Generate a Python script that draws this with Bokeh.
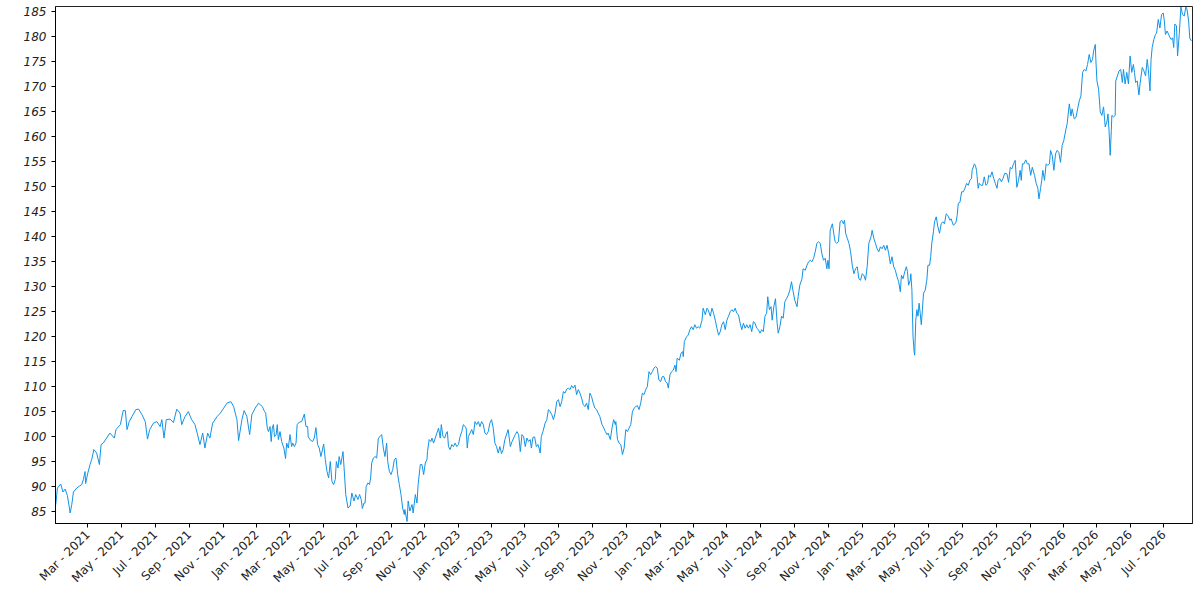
import numpy as np
from math import pi
from bokeh.plotting import figure
from bokeh.models import ColumnDataSource, Range1d, FixedTicker, MonthsTicker, DatetimeTickFormatter
from bokeh.embed import file_html
from bokeh.resources import INLINE

start_date = "2021-01-01"

day_offsets = [
    1, 4, 10, 14, 18, 22, 26, 27, 30, 33, 39, 44, 48, 51, 54, 55, 59, 63, 66, 70, 75, 80, 83, 87, 93, 99,
    107, 110, 118, 123, 127, 130, 134, 139, 146, 151, 157, 163, 167, 171, 178, 184, 190, 193, 197, 201,
    208, 214, 220, 226, 229, 235, 241, 247, 253, 257, 262, 267, 271, 276, 280, 285, 293, 299, 305, 311,
    318, 323, 329, 332, 338, 342, 347, 352, 356, 362, 368,
    371, 375, 379, 381, 384, 386, 389, 391, 393, 395, 397, 400, 402, 404, 407, 410, 414, 417, 419, 422,
    425, 428, 430, 433, 436, 438, 442, 446, 451, 454, 457, 458, 461, 466, 469, 472, 475, 478, 481, 486,
    489, 492, 495, 498, 501, 504, 507, 509, 512, 514, 517, 521, 523, 526, 530, 534, 537, 541, 544, 548,
    551, 554, 556, 559, 561, 563, 566, 569, 571, 573, 576, 579, 582, 585, 588, 591, 594, 597, 600, 602,
    605, 608, 611, 614, 617, 620, 623, 626, 629, 632, 633, 637, 639, 642, 646, 648, 652, 655, 657, 661,
    664, 667, 670, 673, 674, 677, 680, 682, 685, 688, 691, 694, 697, 699, 702, 705, 708, 710, 712, 715,
    718, 721, 724, 727, 730, 733, 736, 739, 742, 744, 746, 748,
    751, 754, 757, 760, 763, 766, 769, 772, 775, 778, 781, 784, 787, 790, 793, 796, 799, 802, 805, 808,
    811, 814, 818, 820, 824, 827, 830, 833, 836, 839, 842, 845, 848, 851, 854, 857, 860, 862, 865, 868,
    871, 874, 876, 878, 880, 883, 887, 890, 893, 896, 899, 902, 905, 908, 911, 914, 917, 920, 923, 926,
    929, 932, 935, 938, 941, 944, 947, 950, 953, 956, 959, 962, 965, 968, 971, 974, 977, 980, 983, 986,
    990, 992, 996, 999, 1001, 1005, 1008, 1011, 1014, 1015, 1018, 1021, 1024, 1027, 1030, 1033, 1036,
    1039, 1042, 1045, 1048, 1051, 1054, 1057, 1060, 1063, 1066, 1069, 1072, 1075, 1078, 1081, 1084, 1087,
    1090, 1093, 1096, 1099, 1102, 1105, 1108, 1110, 1113, 1116, 1119, 1122, 1124, 1126, 1130, 1133, 1136,
    1137, 1139,
    1143, 1146, 1149, 1152, 1155, 1158, 1161, 1164, 1167, 1171, 1173, 1177, 1180, 1182, 1186, 1189, 1192,
    1195, 1198, 1201, 1204, 1207, 1210, 1213, 1216, 1219, 1222, 1225, 1228, 1231, 1234, 1237, 1240, 1243,
    1246, 1249, 1252, 1255, 1258, 1261, 1264, 1267, 1270, 1273, 1276, 1279, 1282, 1285, 1288, 1290, 1293,
    1296, 1298, 1301, 1304, 1307, 1309, 1312, 1315, 1318, 1321, 1324, 1327, 1330, 1333, 1336, 1339, 1343,
    1345, 1348, 1352, 1354, 1358, 1361, 1364, 1367, 1370, 1373, 1376, 1379, 1382, 1385, 1388, 1391, 1394,
    1397, 1399, 1401, 1403, 1407, 1410, 1412, 1415, 1418, 1421, 1424, 1427, 1429, 1431, 1434, 1437, 1440,
    1443, 1446, 1449, 1452, 1455, 1458, 1461, 1464, 1467, 1470, 1473, 1477, 1479, 1482, 1485, 1488, 1491,
    1494, 1497, 1500, 1503, 1506, 1509, 1512, 1515, 1518, 1521, 1524,
    1527, 1530, 1532, 1535, 1538, 1541, 1543, 1545, 1548, 1549, 1551, 1553, 1555, 1556, 1558, 1560, 1562,
    1564, 1566, 1568, 1570, 1572, 1575, 1578, 1580, 1583, 1585, 1587, 1590, 1592, 1595, 1598, 1601, 1604,
    1607, 1610, 1613, 1616, 1620, 1622, 1626, 1629, 1631, 1633, 1635, 1638, 1641, 1644, 1647, 1650, 1653,
    1656, 1659, 1660, 1664, 1666, 1668, 1671, 1673, 1676, 1679, 1682, 1685, 1688, 1690, 1693, 1696, 1699,
    1702, 1705, 1707, 1710, 1713, 1716, 1719,
    1723, 1726, 1729, 1732, 1735, 1738, 1741, 1744, 1747, 1749, 1751, 1754, 1757, 1760, 1763, 1766, 1769,
    1773, 1776, 1779, 1781, 1784, 1786, 1788, 1791, 1794, 1797, 1800, 1802, 1805, 1808, 1811, 1814, 1817,
    1820, 1823, 1826, 1830, 1832, 1836, 1839, 1841, 1845, 1848, 1851, 1854, 1857, 1860, 1863, 1866, 1869,
    1872, 1875, 1878, 1880, 1883, 1884, 1886, 1889,
    1892, 1895, 1898, 1901, 1904, 1906, 1908, 1910, 1912, 1913, 1916, 1919,
    1920, 1923, 1926, 1929, 1932, 1934, 1937, 1940, 1943, 1946, 1949, 1952, 1954, 1956, 1959, 1962, 1964,
    1968, 1971, 1974, 1977, 1979, 1982, 1984, 1986, 1989, 1992, 1994, 1997, 2000, 2003, 2006, 2008, 2010,
    2013, 2017, 2020, 2023, 2025, 2027, 2030, 2032, 2035, 2038, 2041, 2044, 2047, 2049, 2052, 2054, 2057,
]

values = [
    86.4, 89.7, 90.5, 88.9, 89.5, 88.2, 85.5, 84.7, 86.4, 88.9, 89.7, 90.1, 90.4, 91.4, 93.0, 90.6, 92.7,
    94.4, 95.4, 97.4, 96.7, 94.4, 98.4, 98.7, 99.7, 100.7,
    99.7, 101.4, 102.4, 105.2, 105.2, 101.4, 103.0, 104.0, 105.4, 105.5, 104.4, 103.0, 99.5, 101.4, 102.7,
    103.0, 102.0, 103.4, 99.7, 103.4,
    103.5, 102.8, 105.5, 104.7, 102.4, 104.0, 105.0, 103.4, 102.4, 100.7, 98.4, 100.7, 97.7, 100.7, 99.7,
    102.7, 104.0, 104.7, 105.7, 106.7,
    107.0, 106.0, 103.4, 99.2, 103.4, 105.2, 104.0, 100.4, 104.4, 105.7, 106.7,
    106.4, 106.0, 105.0, 104.7, 101.7, 101.0, 102.0, 99.0, 101.7, 102.4, 100.0, 100.4, 102.4, 99.4, 101.0,
    99.0, 97.7, 95.6, 98.7, 97.7,
    100.4, 98.0, 98.7, 98.0, 98.7, 102.4, 102.9, 103.0, 104.5, 102.0, 102.0, 100.0, 99.4, 99.0, 99.7, 101.8,
    98.4, 97.7, 96.0, 98.5,
    95.4, 93.0, 91.7, 95.0, 91.0, 90.4, 91.4, 95.0, 93.7, 96.0, 94.4, 97.0, 93.7, 88.4, 85.7, 86.1, 88.7,
    87.1, 88.4, 87.4,
    88.4, 87.4, 85.6, 86.7, 86.7, 90.0, 90.7, 90.4, 91.7, 94.7, 95.7, 96.0, 95.7, 99.7, 100.0, 100.4, 97.7,
    96.0, 98.7, 95.0,
    93.0, 92.4, 93.4, 95.4, 95.7, 92.4, 90.4, 88.4, 85.7, 84.4, 85.4, 83.0, 87.1, 85.1, 86.4, 84.7, 88.4,
    86.7, 90.4, 94.4,
    94.4, 92.4, 94.7, 95.4, 97.0, 99.4, 99.0, 99.7, 98.7, 99.7, 100.7, 101.7, 99.7, 102.4, 100.0, 99.7,
    100.7, 101.0, 98.0, 97.4,
    98.4, 98.0, 98.7, 98.0, 98.4, 100.0, 101.0, 102.4, 102.0, 101.7, 97.7, 100.0,
    100.7, 101.4, 100.4, 103.0, 102.4, 103.0, 102.0, 103.0, 102.4, 100.7, 100.4, 101.0, 102.7, 103.4, 101.7,
    98.7, 98.0, 96.7, 98.0, 96.6,
    97.4, 99.4, 100.7, 101.4, 98.0, 99.0, 99.7, 100.4, 101.0, 100.4, 97.0, 100.4, 100.0, 98.0, 99.7, 99.0,
    99.4, 97.7, 99.9, 99.9,
    98.0, 98.4, 97.7, 96.7, 100.0, 101.0, 102.7, 103.4, 105.4, 105.0, 104.4, 103.4, 104.7, 107.0, 107.4,
    106.0, 107.0, 109.0, 108.7, 109.5,
    109.7, 109.4, 110.2, 109.7, 110.3, 108.4, 109.4, 108.7, 107.7, 106.4, 106.0, 106.7, 105.4, 108.7, 108.0,
    106.7, 105.7, 105.4, 104.7, 104.0,
    102.4, 102.0, 101.0, 100.4, 100.7, 99.4, 101.7, 103.4, 102.4, 103.0, 99.4, 98.7, 98.4, 96.4, 97.7, 101.4,
    101.0,
    101.7, 102.4, 105.0, 105.7, 106.0, 106.2, 105.4, 106.7, 108.7, 108.4, 109.4, 110.0, 113.0, 112.4, 113.0,
    113.7, 114.0,
    113.7, 111.3, 111.0, 112.0, 112.0, 111.0, 110.7, 109.7, 112.4, 113.0, 113.3, 114.3, 113.0, 115.7, 115.3,
    116.7, 117.0,
    116.0, 119.0,
    120.0, 120.3, 121.4, 122.0, 121.4, 122.4, 121.7, 122.0, 121.7, 123.3, 125.7, 124.4, 125.7, 125.4, 124.1,
    125.7, 124.7,
    123.3, 121.7, 120.3, 121.0, 122.4, 123.0, 121.4, 123.3, 124.1, 125.0, 125.4, 125.0, 125.7, 124.7, 124.4,
    122.7, 121.4,
    122.7, 121.7, 122.4, 121.7, 122.4, 121.0, 123.0, 122.7, 121.7, 121.4, 120.7, 121.4, 121.0, 124.1, 124.7,
    128.0, 125.4,
    126.0, 123.3, 126.0, 127.6, 122.7, 120.7, 122.0, 124.1, 123.7, 127.0, 127.6, 128.3, 129.3, 131.0, 129.0,
    127.3, 126.0,
    128.0, 130.3, 131.6, 133.6, 133.3, 134.3, 135.0, 135.3, 135.0, 135.7, 137.0, 138.7, 139.0, 138.7, 136.6,
    135.3, 135.7,
    133.6, 135.3, 133.6, 141.3, 142.6, 140.3, 139.0, 138.7, 139.0, 143.0, 143.3, 142.6, 143.3, 140.7, 139.7,
    138.7, 137.0,
    134.3, 132.6, 133.6, 134.0, 131.6, 131.3, 132.6, 132.3, 131.3, 134.0, 138.7, 140.0, 141.3, 139.7, 138.7,
    137.6, 137.0,
    138.0, 137.6, 138.3, 137.3, 138.3, 136.6, 134.6, 136.0, 134.0, 133.3, 132.0,
    131.0, 129.0, 132.3, 131.6, 133.0, 134.0, 133.0, 130.3, 131.3, 132.6, 129.3, 120.1, 117.0, 116.3, 123.3,
    125.4, 124.1,
    126.7, 124.7, 122.4, 125.4, 128.7, 129.3, 131.3, 134.3, 134.3, 136.0, 138.7, 141.0, 143.0, 144.0, 142.0,
    140.7, 142.6,
    143.0, 142.6, 144.6, 144.3, 143.3, 143.6, 142.3, 142.6, 143.0, 144.3, 146.7, 146.9, 149.0, 149.0, 149.7,
    150.7, 150.3,
    151.3, 151.7, 153.3, 154.6, 154.3, 153.3, 149.7, 150.7, 150.3, 150.3, 152.0, 150.3, 150.7, 152.3, 152.0,
    153.0, 151.7,
    150.7, 149.7, 151.3, 151.7, 151.0, 151.7, 152.7,
    152.6, 150.9, 153.9, 153.6, 154.6, 155.3, 149.9, 151.3, 153.3, 151.3, 154.6, 154.6, 155.4, 154.6, 154.6,
    152.3, 153.9,
    152.3, 150.7, 149.7, 147.6, 149.7, 151.3, 153.3, 151.3, 154.6, 154.3, 154.6, 157.3, 156.3, 153.3, 156.6,
    157.3, 156.9,
    154.9, 158.3, 159.3, 161.6, 162.6, 166.6, 164.2, 165.6, 163.6, 163.9, 165.6, 167.2, 168.2, 172.9, 173.5,
    173.2, 174.5,
    176.5, 174.9, 175.5, 177.2, 178.5, 175.5, 171.2, 169.5,
    165.0, 164.3, 166.0, 162.0, 163.0, 164.6, 161.0, 156.3, 161.3, 164.3, 164.0, 164.3,
    171.2, 172.2, 173.2, 173.5, 170.9, 173.5, 170.6, 172.9, 170.6, 176.2, 172.9, 174.5, 172.9, 170.9, 171.2,
    168.4, 170.6,
    173.9, 173.2, 172.2, 175.5, 173.5, 169.2, 175.5, 177.9, 179.5, 180.5, 180.8, 183.5, 181.8, 184.5, 184.8,
    183.2, 180.5,
    181.2, 180.2, 179.5, 179.8, 177.9, 182.6, 182.2, 176.2, 180.5, 186.0, 184.5, 184.2, 186.0, 185.6, 183.2,
    179.8, 179.2,
]

y_ticks = [85, 90, 95, 100, 105, 110, 115, 120, 125, 130, 135, 140, 145, 150, 155, 160, 165, 170, 175, 180, 185]
x_start = "2021-01-01T12:00"
x_end = "2026-08-22T00:00"
y_start = 82.6
y_end = 186.1

dates = np.datetime64(start_date) + np.array(day_offsets, dtype="timedelta64[D]")
source = ColumnDataSource(dict(date=dates, value=values))

p = figure(
    width=1198, height=598,
    x_axis_type="datetime",
    x_range=Range1d(np.datetime64(x_start), np.datetime64(x_end)),
    y_range=Range1d(y_start, y_end),
    output_backend="svg", toolbar_location=None,
    min_border_left=55, min_border_right=6, min_border_top=6, min_border_bottom=75,
)
p.line("date", "value", source=source, line_color="#1193e6", line_width=1)

p.xgrid.grid_line_color = None
p.ygrid.grid_line_color = None
p.outline_line_color = "#222222"
p.outline_line_alpha = 1.0

p.xaxis.ticker = MonthsTicker(months=[0, 2, 4, 6, 8, 10])
fmt = "%b - %Y"
p.xaxis.formatter = DatetimeTickFormatter(
    years=fmt, months=fmt, days=fmt, hours=fmt, minutes=fmt, seconds=fmt,
    milliseconds=fmt, microseconds=fmt, hourmin=fmt, minsec=fmt,
)
p.xaxis.major_label_orientation = pi / 4
p.yaxis.ticker = FixedTicker(ticks=y_ticks)

for ax in (p.xaxis[0], p.yaxis[0]):
    ax.axis_line_color = "black"
    ax.major_tick_line_color = "black"
    ax.minor_tick_line_color = None
    ax.major_tick_out = 4
    ax.major_tick_in = 0
    ax.major_label_text_font = "DejaVu Sans"
    ax.major_label_text_font_size = "12px"
    ax.major_label_text_color = "#222222"
p.yaxis.major_label_text_font_style = "italic"

open("out.html", "w").write(file_html(p, INLINE))
